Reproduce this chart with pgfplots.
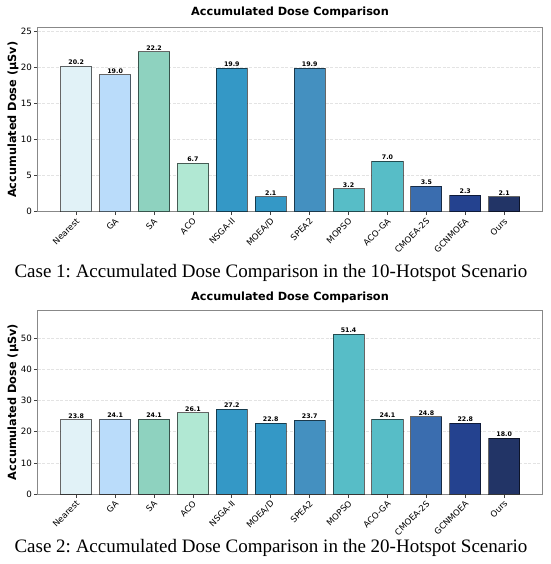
\documentclass[border=0pt]{standalone}
\usepackage{fontspec}
\setmainfont{Liberation Serif}
\newfontfamily\dv{DejaVu Sans}
\usepackage{pgfplots}
\pgfplotsset{compat=1.18}
\definecolor{c1}{HTML}{E1F2F7}
\definecolor{c2}{HTML}{BADCFA}
\definecolor{c3}{HTML}{8ED2BF}
\definecolor{c4}{HTML}{B1E8D3}
\definecolor{c5}{HTML}{3498C6}
\definecolor{c6}{HTML}{3498C6}
\definecolor{c7}{HTML}{4490C0}
\definecolor{c8}{HTML}{57BDC7}
\definecolor{c9}{HTML}{57BDC7}
\definecolor{c10}{HTML}{3A6DAF}
\definecolor{c11}{HTML}{24428F}
\definecolor{c12}{HTML}{223466}
\definecolor{spine}{HTML}{888888}
\pgfplotsset{
  mybar/.style={
    scale only axis, width=505pt, height=184pt,
    xmin=-0.99, xmax=11.99, ymin=0,
    xtick={0,...,11},
    xticklabels={Nearest,GA,SA,ACO,NSGA-II,MOEA/D,SPEA2,MOPSO,ACO-GA,CMOEA-2S,GCNMOEA,Ours},
    xticklabel style={rotate=45, anchor=north east, inner sep=1pt, xshift=-1pt, font=\dv\fontsize{8.5}{10}\selectfont},
    yticklabel style={inner sep=2pt, font=\dv\fontsize{8.7}{10}\selectfont},
    /pgf/number format/assume math mode=true,
    ylabel={Accumulated Dose (µSv)},
    every axis y label/.style={at={(rel axis cs:0,0.5)}, xshift=-24.7pt, rotate=90, anchor=center, font=\dv\bfseries\fontsize{11.3}{13}\selectfont},
    ybar, bar width=0.8, bar shift=0pt,
    axis line style={draw=spine, line width=0.8pt},
    major tick style={draw=black!75, line width=0.7pt},
    major tick length=3.5pt, tick align=outside, tick pos=left,
    ymajorgrids, grid style={dash pattern=on 3pt off 1.5pt, gray!22, line width=0.6pt},
    every axis plot/.append style={draw=black, draw opacity=0.6, line width=0.9pt},
    nodes near coords,
    nodes near coords style={font=\dv\bfseries\fontsize{6.3}{7}\selectfont, anchor=south, inner sep=1pt, /pgf/number format/.cd, fixed, fixed zerofill, precision=1, assume math mode=true},
  }
}
\begin{document}
\frenchspacing
\begin{tikzpicture}
\path[use as bounding box] (0,0) rectangle (550pt,-564pt);
\node[anchor=base, font=\dv\bfseries\fontsize{11.3}{13}\selectfont] at (290pt,-16pt) {Accumulated Dose Comparison};
\begin{axis}[mybar, at={(37.7pt,-211.7pt)}, anchor=south west, ymax=25.53, ytick={0,5,...,25}]
\addplot[fill=c1] coordinates {(0,20.2)};
\addplot[fill=c2] coordinates {(1,19.0)};
\addplot[fill=c3] coordinates {(2,22.2)};
\addplot[fill=c4] coordinates {(3,6.7)};
\addplot[fill=c5] coordinates {(4,19.9)};
\addplot[fill=c6] coordinates {(5,2.1)};
\addplot[fill=c7] coordinates {(6,19.9)};
\addplot[fill=c8] coordinates {(7,3.2)};
\addplot[fill=c9] coordinates {(8,7.0)};
\addplot[fill=c10] coordinates {(9,3.5)};
\addplot[fill=c11] coordinates {(10,2.3)};
\addplot[fill=c12] coordinates {(11,2.1)};
\end{axis}
\node[anchor=base west, font=\fontsize{19}{22}\selectfont] at (11pt,-277pt) {Case 1: Accumulated Dose Comparison in the 10-Hotspot Scenario};
\node[anchor=base, font=\dv\bfseries\fontsize{11.3}{13}\selectfont] at (290pt,-300pt) {Accumulated Dose Comparison};
\begin{axis}[mybar, at={(37.7pt,-494pt)}, anchor=south west, ymax=59.11, ytick={0,10,...,50}]
\addplot[fill=c1] coordinates {(0,23.8)};
\addplot[fill=c2] coordinates {(1,24.1)};
\addplot[fill=c3] coordinates {(2,24.1)};
\addplot[fill=c4] coordinates {(3,26.1)};
\addplot[fill=c5] coordinates {(4,27.2)};
\addplot[fill=c6] coordinates {(5,22.8)};
\addplot[fill=c7] coordinates {(6,23.7)};
\addplot[fill=c8] coordinates {(7,51.4)};
\addplot[fill=c9] coordinates {(8,24.1)};
\addplot[fill=c10] coordinates {(9,24.8)};
\addplot[fill=c11] coordinates {(10,22.8)};
\addplot[fill=c12] coordinates {(11,18.0)};
\end{axis}
\node[anchor=base west, font=\fontsize{19}{22}\selectfont] at (11pt,-552pt) {Case 2: Accumulated Dose Comparison in the 20-Hotspot Scenario};
\end{tikzpicture}
\end{document}
